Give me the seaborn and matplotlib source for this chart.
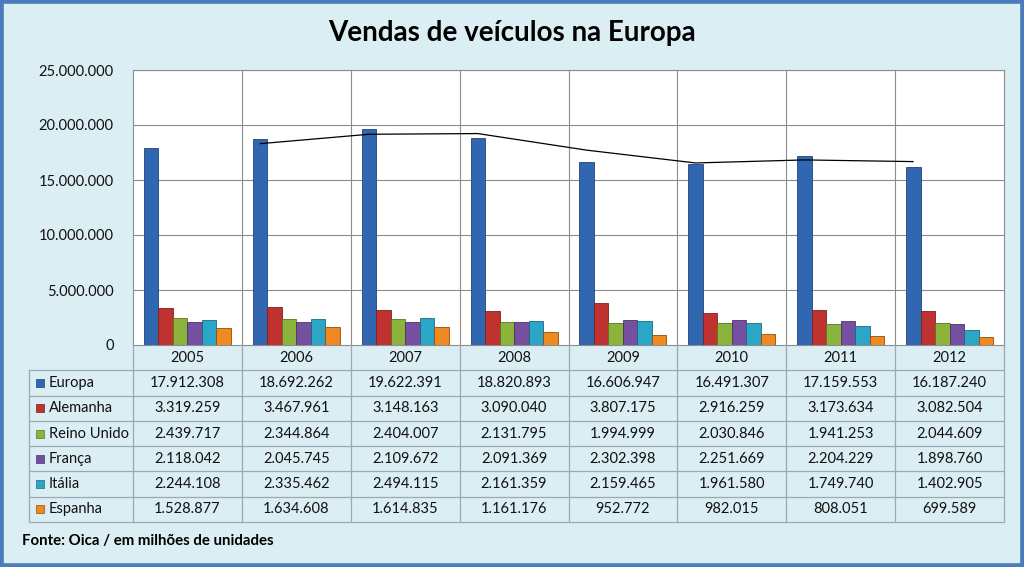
import numpy as np
import pandas as pd
import seaborn as sns
import matplotlib.pyplot as plt
from matplotlib.patches import Rectangle
from matplotlib.ticker import FuncFormatter

# Dados (Fonte: Oica)
anos = ['2005', '2006', '2007', '2008', '2009', '2010', '2011', '2012']
paises = ['Europa', 'Alemanha', 'Reino Unido', 'França', 'Itália', 'Espanha']
europa = [17912308, 18692262, 19622391, 18820893, 16606947, 16491307, 17159553, 16187240]
alemanha = [3319259, 3467961, 3148163, 3090040, 3807175, 2916259, 3173634, 3082504]
reino_unido = [2439717, 2344864, 2404007, 2131795, 1994999, 2030846, 1941253, 2044609]
franca = [2118042, 2045745, 2109672, 2091369, 2302398, 2251669, 2204229, 1898760]
italia = [2244108, 2335462, 2494115, 2161359, 2159465, 1961580, 1749740, 1402905]
espanha = [1528877, 1634608, 1614835, 1161176, 952772, 982015, 808051, 699589]
y_ticks = [0, 5000000, 10000000, 15000000, 20000000, 25000000]

cores = ['#3166b0', '#c0322f', '#8cb43c', '#7650a0', '#2ba6c6', '#ef8a22']
fundo = '#dbeef4'
grade = '#8c8c8c'

series = [europa, alemanha, reino_unido, franca, italia, espanha]
df = pd.DataFrame({'ano': np.tile(anos, len(paises)),
                   'pais': np.repeat(paises, len(anos)),
                   'vendas': np.concatenate(series)})

sns.set_theme(style='white')
plt.rcParams['font.family'] = ['Lato', 'DejaVu Sans']

W, H = 1024, 567
fig = plt.figure(figsize=(W / 100, H / 100), dpi=100, facecolor=fundo)
fig.patches.append(Rectangle((0, 0), 1, 1, transform=fig.transFigure, fill=False,
                             edgecolor='#4a7ebb', linewidth=5.5, zorder=10))

def px_axes(l, t, r, b):
    return fig.add_axes([l / W, 1 - b / H, (r - l) / W, (b - t) / H])

# Area do grafico
ax = px_axes(133, 70, 1004, 345)
ax.set_facecolor('white')
sns.barplot(data=df, x='ano', y='vendas', hue='pais', hue_order=paises, palette=cores,
            width=0.8, saturation=1, legend=False, ax=ax, edgecolor='none', zorder=3)
for cont, c in zip(ax.containers, cores):
    for p in cont:
        p.set_edgecolor(sns.set_hls_values(c, l=0.3))
        p.set_linewidth(0.6)

# Media movel de 2 periodos (linha de tendencia)
mm = pd.Series(europa).rolling(2).mean()
xs = [p.get_x() + p.get_width() / 2 for p in ax.containers[0]]
ax.plot(xs[1:], mm[1:], color='black', lw=0.9, zorder=4)

ax.set_xlim(-0.5, len(anos) - 0.5)
ax.set_ylim(0, 25000000)
ax.set_yticks(y_ticks)
ax.yaxis.set_major_formatter(FuncFormatter(lambda v, _: f'{int(v):,}'.replace(',', '.')))
ax.tick_params(axis='y', length=0, pad=14, labelsize=10.5, labelcolor='#111111')
ax.set_xticks([])
ax.set_xlabel('')
ax.set_ylabel('')
for v in y_ticks[1:]:
    ax.axhline(v, color=grade, lw=0.8, zorder=1)
for k in range(1, len(anos)):
    ax.axvline(k - 0.5, color=grade, lw=0.8, zorder=1)
for s in ax.spines.values():
    s.set_color(grade)
    s.set_linewidth(0.8)

# Tabela de dados
unid = 871 / len(anos)
x_esq = -0.5 - (133 - 29) / unid
tb = px_axes(29, 345, 1004, 522)
tb.set_xlim(x_esq, len(anos) - 0.5)
tb.set_ylim(len(paises) + 1, 0)
tb.axis('off')
lc = '#9aa9b3'
for k in range(len(anos) + 1):
    tb.plot([k - 0.5, k - 0.5], [0, len(paises) + 1], color=lc, lw=0.9, clip_on=False)
tb.plot([x_esq, x_esq], [1, len(paises) + 1], color=lc, lw=0.9, clip_on=False)
for r in range(1, len(paises) + 2):
    tb.plot([x_esq, len(anos) - 0.5], [r, r], color=lc, lw=0.9, clip_on=False)
for k, a in enumerate(anos):
    tb.text(k, 0.5, a, ha='center', va='center', fontsize=10.5, color='#111111')
for r, (nome, vals, c) in enumerate(zip(paises, series, cores)):
    y = r + 1.5
    tb.scatter([x_esq + 11 / unid], [y], marker='s', s=30, color=c,
               edgecolor=sns.set_hls_values(c, l=0.3), linewidth=0.5, clip_on=False)
    tb.text(x_esq + 20 / unid, y, nome, ha='left', va='center', fontsize=10.5, color='#111111')
    for k, v in enumerate(vals):
        tb.text(k, y, f'{v:,}'.replace(',', '.'), ha='center', va='center',
                fontsize=10.5, color='#111111')

fig.text(0.5, 1 - 33 / H, 'Vendas de veículos na Europa', ha='center', va='center',
         fontsize=20, fontweight='bold', color='black')
fig.text(22 / W, 1 - 541 / H, 'Fonte: Oica / em milhões de unidades', ha='left', va='center',
         fontsize=10.8, fontweight='bold', color='black')

fig.savefig('out.png', dpi=100, facecolor=fundo)
